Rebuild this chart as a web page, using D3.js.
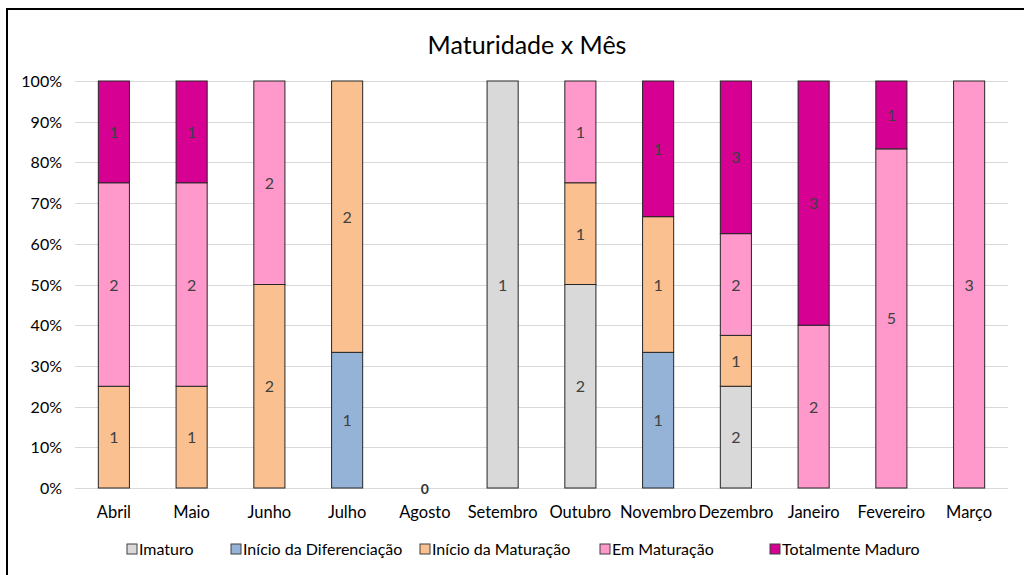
<!DOCTYPE html>
<html>
<head>
<meta charset="utf-8">
<script src="https://cdn.jsdelivr.net/npm/d3@7"></script>
<style>
  body { margin: 0; background: #fff; }
  text { font-family: Lato, "Open Sans", sans-serif; }
</style>
</head>
<body>
<div id="chart"></div>
<script>
// Chart data
const months = ["Abril", "Maio", "Junho", "Julho", "Agosto", "Setembro", "Outubro", "Novembro", "Dezembro", "Janeiro", "Fevereiro", "Março"];
const seriesNames = ["Imaturo", "Início da Diferenciação", "Início da Maturação", "Em Maturação", "Totalmente Maduro"];
const imaturo      = [0, 0, 0, 0, 0, 1, 2, 0, 2, 0, 0, 0];
const inicioDif    = [0, 0, 0, 1, 0, 0, 0, 1, 0, 0, 0, 0];
const inicioMat    = [1, 1, 2, 2, 0, 0, 1, 1, 1, 0, 0, 0];
const emMaturacao  = [2, 2, 2, 0, 0, 0, 1, 0, 2, 2, 5, 3];
const totalMaduro  = [1, 1, 0, 0, 0, 0, 0, 1, 3, 3, 1, 0];
const colors = ["#D9D9D9", "#95B3D7", "#FAC090", "#FF99CC", "#D60093"];
const yTicks = [0, 0.1, 0.2, 0.3, 0.4, 0.5, 0.6, 0.7, 0.8, 0.9, 1];

const allSeries = [imaturo, inicioDif, inicioMat, emMaturacao, totalMaduro];

const W = 1024, H = 575;
const svg = d3.select("#chart").append("svg")
  .attr("width", W).attr("height", H);

// outer frame (cut off at right and bottom)
svg.append("rect")
  .attr("x", 7).attr("y", 9)
  .attr("width", W + 20).attr("height", H + 20)
  .attr("fill", "none").attr("stroke", "#000").attr("stroke-width", 2);

svg.append("text")
  .attr("x", 527).attr("y", 54)
  .attr("text-anchor", "middle")
  .attr("font-size", 25).attr("fill", "#000")
  .text("Maturidade x Mês");

const x = d3.scaleBand().domain(months).range([75, 1008]).paddingInner(0.6).paddingOuter(0.3);
const y = d3.scaleLinear().domain([0, 1]).range([488, 81]);

// gridlines
svg.append("g").selectAll("line").data(yTicks).join("line")
  .attr("x1", 75).attr("x2", 1008)
  .attr("y1", d => Math.round(y(d)) + 0.5).attr("y2", d => Math.round(y(d)) + 0.5)
  .attr("stroke", "#D9D9D9").attr("stroke-width", 1);

// y axis labels
svg.append("g").selectAll("text").data(yTicks).join("text")
  .attr("x", 62).attr("y", d => y(d) + 6)
  .attr("text-anchor", "end")
  .attr("font-size", 16).attr("fill", "#000")
  .text(d3.format(".0%"));

// build rows + stacked percentages
const rows = months.map((m, i) => {
  const r = { month: m, total: 0 };
  seriesNames.forEach((s, k) => { r[s] = allSeries[k][i]; r.total += allSeries[k][i]; });
  return r;
});
const stack = d3.stack().keys(seriesNames)
  .value((d, key) => d.total ? d[key] / d.total : 0);
const stacked = stack(rows);

const layers = svg.append("g").selectAll("g").data(stacked).join("g")
  .attr("fill", (d, i) => colors[i]);

layers.selectAll("rect").data(d => d.filter(p => p[1] > p[0])).join("rect")
  .attr("x", p => x(p.data.month))
  .attr("width", x.bandwidth())
  .attr("y", p => y(p[1]))
  .attr("height", p => y(p[0]) - y(p[1]))
  .attr("stroke", "#262626").attr("stroke-width", 1);

// value labels
stacked.forEach((layer, k) => {
  svg.append("g").selectAll("text").data(layer.filter(p => p[1] > p[0])).join("text")
    .attr("x", p => x(p.data.month) + x.bandwidth() / 2)
    .attr("y", p => y((p[0] + p[1]) / 2) + 6)
    .attr("text-anchor", "middle")
    .attr("font-size", 16).attr("fill", "#404040")
    .text(p => p.data[layer.key]);
});

// zero label for empty month
rows.filter(r => r.total === 0).forEach(r => {
  svg.append("text")
    .attr("x", x(r.month) + x.bandwidth() / 2).attr("y", y(0) + 6)
    .attr("text-anchor", "middle")
    .attr("font-family", "DejaVu Serif, serif")
    .attr("font-weight", "bold")
    .attr("font-size", 14).attr("fill", "#333")
    .text(0);
});

// x axis labels
svg.append("g").selectAll("text").data(months).join("text")
  .attr("x", m => x(m) + x.bandwidth() / 2).attr("y", 518)
  .attr("text-anchor", "middle")
  .attr("font-size", 16.5).attr("fill", "#000")
  .text(m => m);

// legend
const legendX = [127, 231, 420, 600, 770];
const legend = svg.append("g").selectAll("g").data(seriesNames).join("g")
  .attr("transform", (d, i) => `translate(${legendX[i]},544)`);
legend.append("rect")
  .attr("width", 10).attr("height", 10)
  .attr("fill", (d, i) => colors[i])
  .attr("stroke", "#404040").attr("stroke-width", 1);
legend.append("text")
  .attr("x", 12).attr("y", 11)
  .attr("font-size", 16).attr("fill", "#000")
  .text(d => d);
</script>
</body>
</html>
